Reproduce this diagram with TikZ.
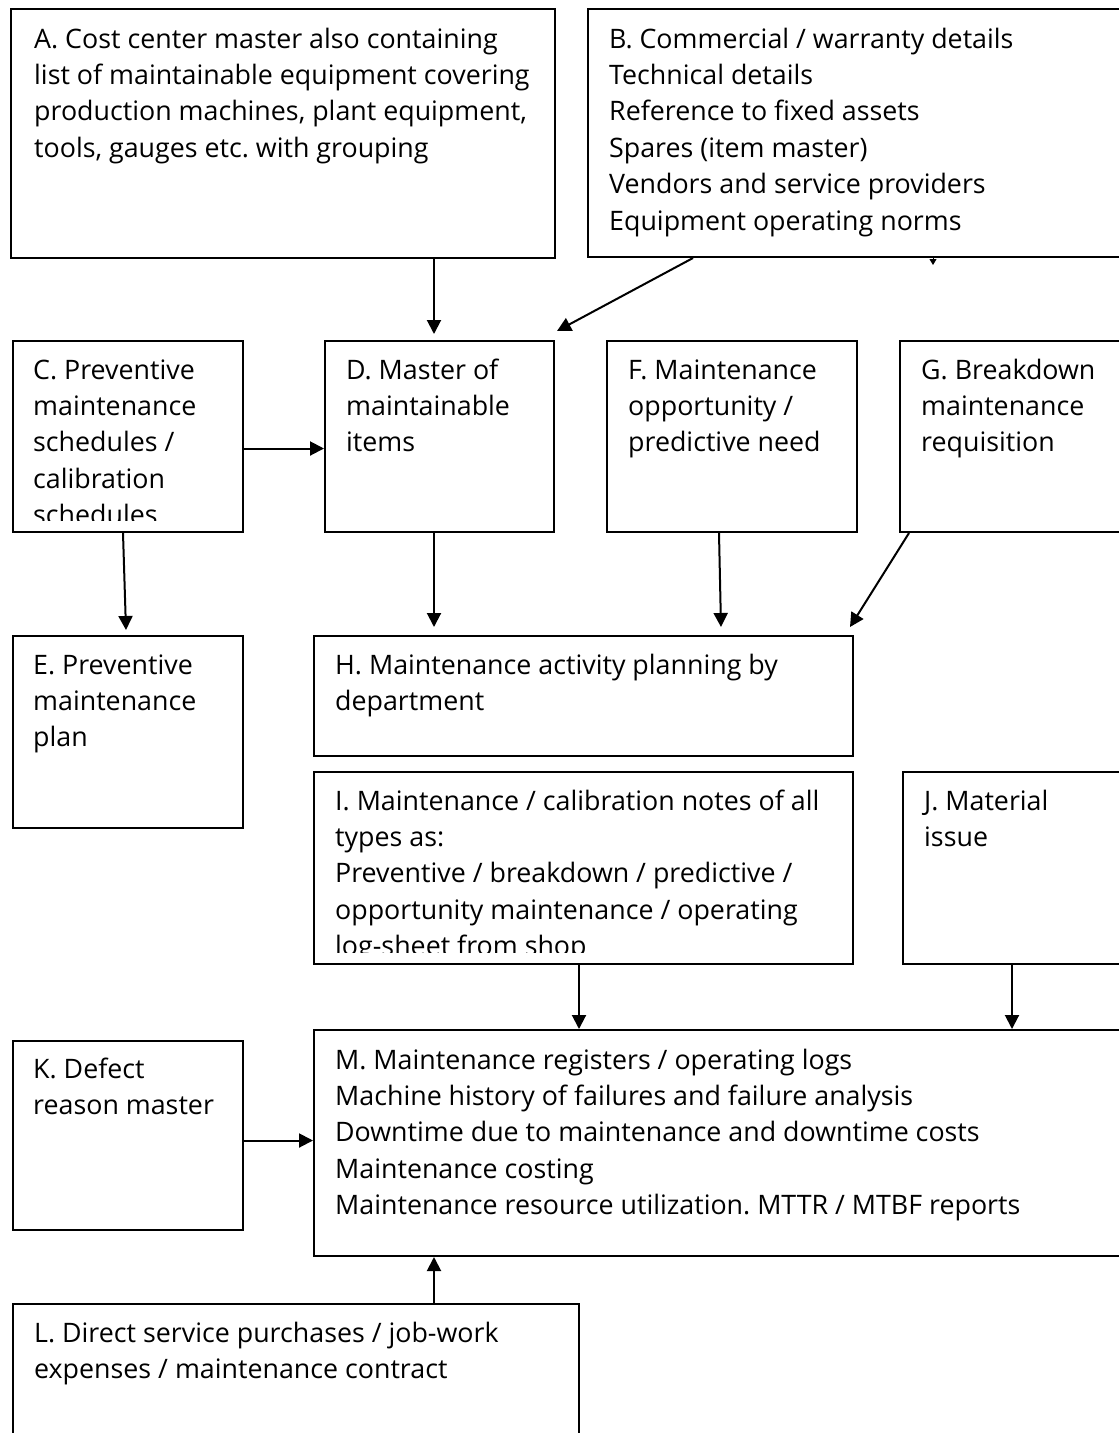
\documentclass[tikz,border=0pt]{standalone}
\usepackage{fontspec}
\setmainfont{Open Sans}
\usetikzlibrary{arrows.meta,positioning}
\frenchspacing

\begin{document}
\begin{tikzpicture}[x=1pt, y=1pt, >={Triangle[length=14pt, width=14pt]},
  box/.style={draw, line width=2pt, inner sep=0pt, anchor=north west},
  txt/.style={anchor=base west, align=left, inner sep=0pt,
              font=\fontsize{26.8}{36.4}\selectfont},
  arr/.style={->, line width=2pt}]
  \useasboundingbox (0,0) rectangle (1119,-1433);

  % top row (text nodes sit on the baseline of their last line)
  \node[box, minimum width=544, minimum height=249] (A) at (10,-8) {};
  \node[txt] (At) at (34,-157.2) {A. Cost center master also containing\\
    list of maintainable equipment covering\\
    production machines, plant equipment,\\
    tools, gauges etc. with grouping};
  \node[box, minimum width=545, minimum height=248] (B) at (587,-8) {};
  \node[txt] (Bt) at (609,-230) {B. Commercial / warranty details\\
    Technical details\\
    Reference to fixed assets\\
    Spares (item master)\\
    Vendors and service providers\\
    Equipment operating norms};

  % second row
  \node[box, minimum width=230, minimum height=191] (C) at (12,-340) {};
  \begin{scope}
    \clip (12,-340) rectangle (242,-520);
    \node[txt] (Ct) at (33,-524.6) {C. Preventive\\ maintenance\\ schedules /\\
      calibration\\ schedules};
  \end{scope}
  \node[box, minimum width=229, minimum height=191] (D) at (324,-340) {};
  \node[txt] (Dt) at (346,-451.8) {D. Master of\\ maintainable\\ items};
  \node[box, minimum width=250, minimum height=191] (F) at (606,-340) {};
  \node[txt] (Ft) at (628,-451.8) {F. Maintenance\\ opportunity /\\ predictive need};
  \node[box, minimum width=235, minimum height=191] (G) at (899,-340) {};
  \node[txt] (Gt) at (921,-451.8) {G. Breakdown\\ maintenance\\ requisition};

  % third row
  \node[box, minimum width=230, minimum height=192] (E) at (12,-635) {};
  \node[txt] (Et) at (33,-746.8) {E. Preventive\\ maintenance\\ plan};
  \node[box, minimum width=539, minimum height=120] (H) at (313,-635) {};
  \node[txt] (Ht) at (335,-710.4) {H. Maintenance activity planning by\\ department};

  % fourth row
  \node[box, minimum width=539, minimum height=192] (I) at (313,-771) {};
  \begin{scope}
    \clip (313,-771) rectangle (852,-952);
    \node[txt] (It) at (335,-955.6) {I. Maintenance / calibration notes of all\\
      types as:\\
      Preventive / breakdown / predictive /\\
      opportunity maintenance / operating\\
      log-sheet from shop};
  \end{scope}
  \node[box, minimum width=232, minimum height=192] (J) at (902,-771) {};
  \node[txt] (Jt) at (924,-846.4) {J. Material\\ issue};

  % registers
  \node[box, minimum width=230, minimum height=189] (K) at (12,-1040) {};
  \node[txt] (Kt) at (33,-1114.4) {K. Defect\\ reason master};
  \node[box, minimum width=820, minimum height=226] (M) at (313,-1029) {};
  \node[txt] (Mt) at (335,-1214.6) {M. Maintenance registers / operating logs\\
    Machine history of failures and failure analysis\\
    Downtime due to maintenance and downtime costs\\
    Maintenance costing\\
    Maintenance resource utilization. MTTR / MTBF reports};
  \node[box, minimum width=566, minimum height=160] (L) at (12,-1303) {};
  \node[txt] (Lt) at (34,-1378.4) {L. Direct service purchases / job-work\\
    expenses / maintenance contract};

  % connectors
  \coordinate (Bstub) at ([xshift=346pt, yshift=-7pt]B.south west);
  \draw[line width=1pt, -{Triangle[length=6pt, width=7pt]}]
    ([xshift=346pt]B.south west) -- (Bstub);
  \draw[arr] ([xshift=-5.5pt]D.north |- A.south) -- ([xshift=-5.5pt, yshift=6pt]D.north);
  \draw[arr] ([xshift=106pt]B.south west) -- ([xshift=2pt, yshift=9pt]D.north east);
  \draw[arr] ([yshift=-12pt]C.east) -- ([yshift=-12pt]D.west);
  \draw[arr] ([xshift=-5pt]C.south) -- ([xshift=-2pt, yshift=5pt]E.north);
  \draw[arr] ([xshift=-5.5pt]D.south) -- ([xshift=-5.5pt, yshift=8pt]D.south |- H.north);
  \draw[arr] ([xshift=-13pt]F.south) -- ([xshift=-11pt, yshift=8pt]F.south |- H.north);
  \draw[arr] ([xshift=10pt]G.south west) -- ([xshift=-4pt, yshift=8pt]H.north east);
  \draw[arr] ([xshift=-4.5pt]I.south) -- ([xshift=-4.5pt]I.south |- M.north);
  \draw[arr] ([xshift=110pt]J.south west) -- ([xshift=110pt]J.south west |- M.north);
  \draw[arr] ([yshift=-5pt]K.east) -- ([yshift=-5pt]K.east -| M.west);
  \draw[arr] ([xshift=422pt]L.north west) -- ([xshift=422pt]L.north west |- M.south);
\end{tikzpicture}
\end{document}
